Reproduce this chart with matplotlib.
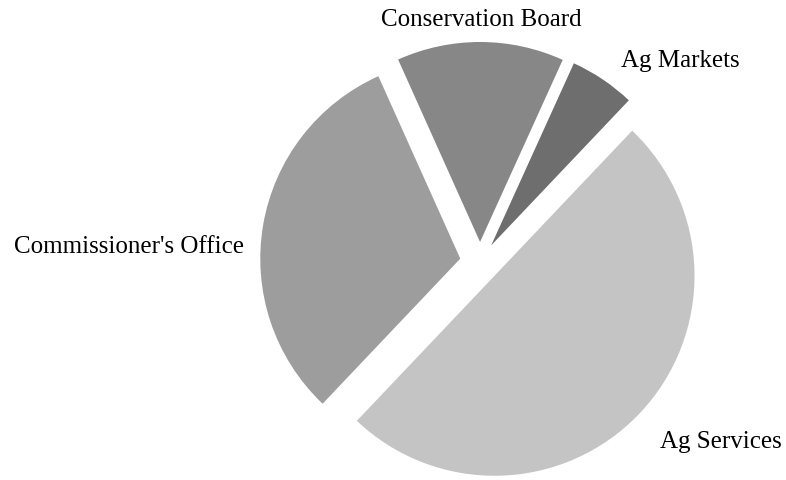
import matplotlib.pyplot as plt

labels = ["Ag Services", "Ag Markets", "Conservation Board", "Commissioner's Office"]
shares = [50.0, 5.3, 13.5, 31.2]
colors = ["#c4c4c4", "#6e6e6e", "#878787", "#9d9d9d"]

plt.rcParams['font.family'] = ['Liberation Serif', 'DejaVu Serif']

fig = plt.figure(figsize=(7.86, 4.81), dpi=100)
ax = fig.add_axes([0, 0, 1, 1])

wedges, _ = ax.pie(shares, colors=colors, startangle=226.5, counterclock=True,
                   explode=[0.1] * len(shares), radius=1.0,
                   wedgeprops=dict(linewidth=0))

# one data unit = 200 px, pie centre at (480, 263) px from top-left
ax.set_aspect('auto')
ax.set_xlim(-2.4, 1.53)
ax.set_ylim(-1.09, 1.315)
ax.axis('off')

# label anchors: (x, y, horizontal alignment)
label_pos = {
    "Ag Services": (0.90, -0.925, 'left'),
    "Ag Markets": (0.705, 0.98, 'left'),
    "Conservation Board": (0.005, 1.185, 'center'),
    "Commissioner's Office": (-1.18, 0.05, 'right'),
}
for name in labels:
    x, y, ha = label_pos[name]
    ax.text(x, y, name, ha=ha, va='baseline', fontsize=18, color='black')

fig.savefig('out.png', dpi=100)
